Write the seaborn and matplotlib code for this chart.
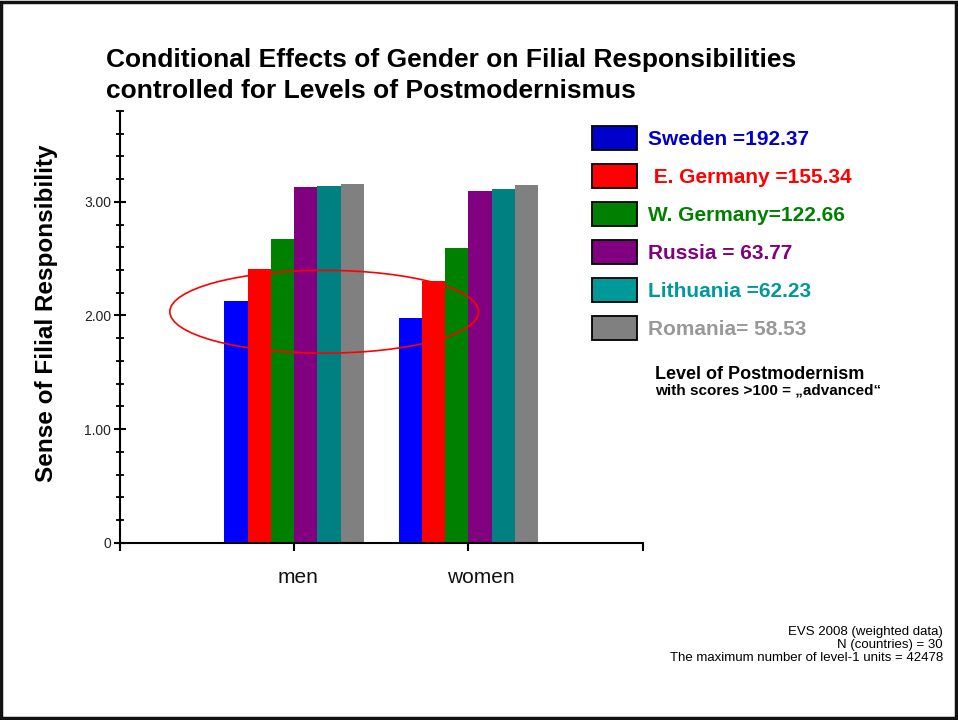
import matplotlib
matplotlib.use("Agg")
import matplotlib.pyplot as plt
from matplotlib.patches import Ellipse, Patch, Rectangle
from matplotlib.ticker import MultipleLocator, FixedLocator
from matplotlib.transforms import ScaledTranslation
import seaborn as sns
import pandas as pd

sns.set_theme(style="white")
plt.rcParams["font.family"] = ["Liberation Sans", "DejaVu Sans"]

# Data
genders = ["men", "women"]
countries = ["Sweden", "E. Germany", "W. Germany", "Russia", "Lithuania", "Romania"]
legend_labels = ["Sweden =192.37", " E. Germany =155.34", "W. Germany=122.66",
                 "Russia = 63.77", "Lithuania =62.23", "Romania= 58.53"]
men_values = [2.13, 2.41, 2.67, 3.13, 3.14, 3.16]
women_values = [1.98, 2.30, 2.59, 3.10, 3.11, 3.15]
y_ticks = [0, 1, 2, 3]
y_tick_labels = ["0", "1.00", "2.00", "3.00"]

bar_colors = ["#0000FF", "#FF0000", "#008000", "#800080", "#008080", "#808080"]
patch_colors = ["#0000CC", "#FF0000", "#008000", "#800080", "#009999", "#808080"]
text_colors = ["#0000CC", "#FF0000", "#008000", "#800080", "#009999", "#999999"]

df = pd.DataFrame({
    "gender": [g for g in genders for _ in countries],
    "country": countries * len(genders),
    "value": men_values + women_values,
})

W, H = 958, 720
fig = plt.figure(figsize=(W / 100, H / 100), dpi=100)
ax = fig.add_axes([119.6 / W, 1 - 542.7 / H, 523.3 / W, 431.7 / H])

sns.barplot(data=df, x="gender", y="value", hue="country", order=genders,
            hue_order=countries, palette=bar_colors, saturation=1,
            width=0.8, linewidth=0, legend=False, ax=ax)

ax.set_xlim(-1, 2)
ax.set_ylim(0, 3.8)
ax.xaxis.set_major_locator(FixedLocator([-1, 0, 1, 2]))
ax.set_xticklabels(["", "men", "women", ""], fontsize=15, color="#111111")
ax.yaxis.set_major_locator(FixedLocator(y_ticks))
ax.set_yticklabels(y_tick_labels, fontsize=10, color="#222222")
ax.yaxis.set_minor_locator(MultipleLocator(0.2))
ax.tick_params(axis="x", which="major", direction="out", length=6, width=1.5,
               color="black", pad=12, bottom=True)
ax.tick_params(axis="y", which="major", direction="inout", length=8, width=1.5,
               color="black", pad=2, left=True)
ax.tick_params(axis="y", which="minor", direction="inout", length=6, width=1.3,
               color="black", left=True)
# category labels sit slightly right of their ticks
for lbl, dx in zip(ax.get_xticklabels(), [0, 4, 12, 0]):
    lbl.set_transform(lbl.get_transform() + ScaledTranslation(dx / 100, 0, fig.dpi_scale_trans))
for side in ["top", "right"]:
    ax.spines[side].set_visible(False)
for side in ["left", "bottom"]:
    ax.spines[side].set_color("black")
    ax.spines[side].set_linewidth(1.5)
ax.set_xlabel("")
ax.set_ylabel("")

# Highlight of the lowest bars
ax.add_patch(Ellipse((0.173, 2.033), 1.77, 0.729, fill=False, edgecolor="#FF0000",
                     linewidth=1.2, zorder=5))

# Y axis title
fig.text(47 / W, 1 - 313 / H, "Sense of Filial Responsibility", rotation=90,
         ha="center", va="center", fontsize=17.5, fontweight="bold", color="black")

# Title
fig.text(106 / W, 1 - 66.7 / H,
         "Conditional Effects of Gender on Filial Responsibilities",
         ha="left", va="baseline", fontsize=19, fontweight="bold", color="black")
fig.text(106 / W, 1 - 98.3 / H, "controlled for Levels of Postmodernismus",
         ha="left", va="baseline", fontsize=19, fontweight="bold", color="black")

# Legend
handles = [Patch(facecolor=c, edgecolor="black", linewidth=1.3) for c in patch_colors]
leg_fs = 15
fs_px = leg_fs * 100 / 72
box_h = 24 / fs_px
leg = fig.legend(handles, legend_labels, loc="upper left",
                 bbox_to_anchor=(592 / W, 1 - 126 / H),
                 bbox_transform=fig.transFigure, frameon=False, borderpad=0,
                 borderaxespad=0, handlelength=45 / fs_px,
                 handleheight=(box_h - 0.245) / 0.65,
                 handletextpad=11 / fs_px, labelspacing=14 / fs_px,
                 prop={"size": leg_fs, "weight": "bold"})
for t, c in zip(leg.get_texts(), text_colors):
    t.set_color(c)

fig.text(655 / W, 1 - 379 / H, "Level of Postmodernism", ha="left",
         va="baseline", fontsize=13, fontweight="bold", color="black")
fig.text(655 / W, 1 - 394.3 / H, "with scores >100 = \u201eadvanced\u201c", ha="left",
         va="baseline", fontsize=11, fontweight="bold", color="black")

# Source notes
notes = ["EVS 2008 (weighted data)", "N (countries) = 30",
         "The maximum number of level-1 units = 42478"]
for i, line in enumerate(notes):
    fig.text(943 / W, 1 - (635 + 13 * i) / H, line, ha="right", va="baseline",
             fontsize=9.5, color="black")

# Frame around the whole figure
fig.add_artist(Rectangle((0.0015, 0.003), 0.996, 0.994, transform=fig.transFigure,
                         fill=False, edgecolor="#111111", linewidth=2.5))

fig.savefig("out.png", dpi=100)
